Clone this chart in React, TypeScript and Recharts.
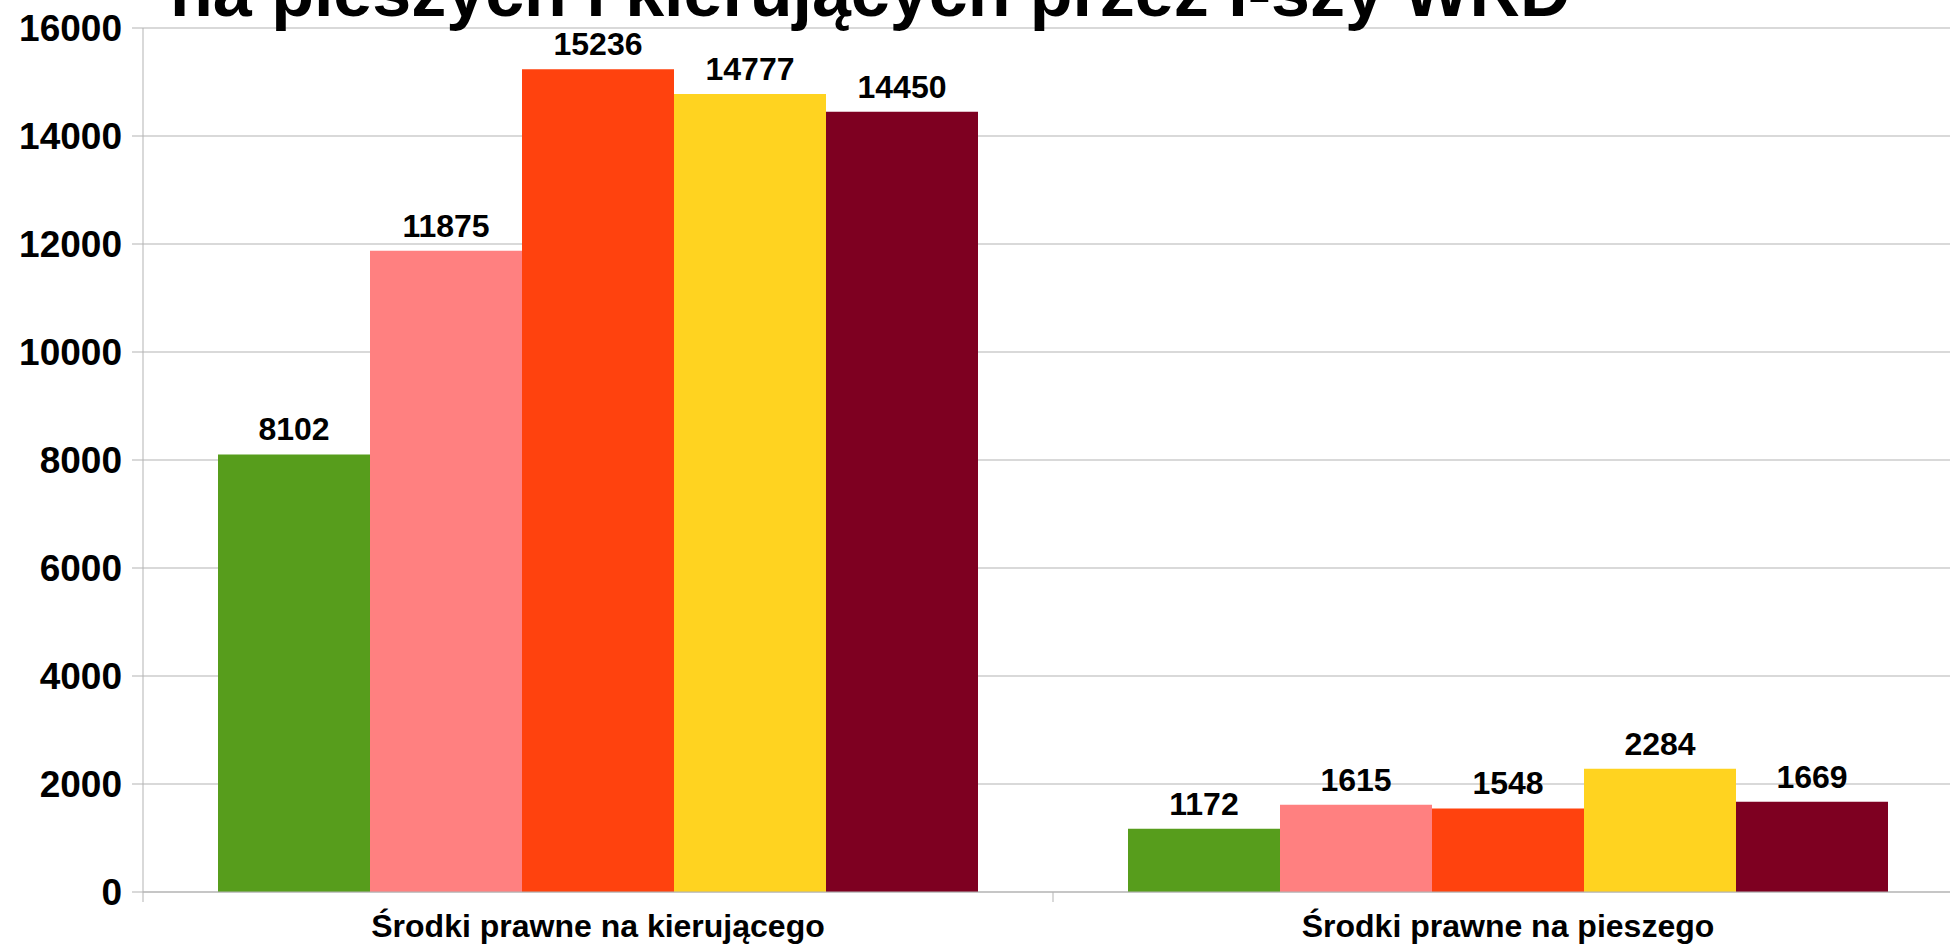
import { Bar, BarChart, CartesianGrid, LabelList, XAxis, YAxis } from 'recharts'

const categories = ['Środki prawne na kierującego', 'Środki prawne na pieszego']
const seriesNames = ['Okres 1', 'Okres 2', 'Okres 3', 'Okres 4', 'Okres 5']
const seriesColors = ['#579d1c', '#ff8080', '#ff420e', '#ffd320', '#7e0021']
const okres1 = [8102, 1172]
const okres2 = [11875, 1615]
const okres3 = [15236, 1548]
const okres4 = [14777, 2284]
const okres5 = [14450, 1669]
const yTicks = [0, 2000, 4000, 6000, 8000, 10000, 12000, 14000, 16000]
const titleLine = 'na pieszych i kierujących przez I-szy WRD'

const seriesValues = [okres1, okres2, okres3, okres4, okres5]
const data = categories.map((name, i) => {
  const row: Record<string, string | number> = { name }
  seriesNames.forEach((s, k) => {
    row[s] = seriesValues[k][i]
  })
  return row
})

const font = '"Liberation Sans", Arial, sans-serif'
const axisGray = '#b3b3b3'
const labelGap = 22

// category label plus the small tick marks at the category boundaries
function CategoryTick(props: any) {
  const { x, y, payload, width, visibleTicksCount, index } = props
  const half = Number(width) / (2 * (visibleTicksCount || 1))
  const axisY = y - labelGap
  const edges = index === visibleTicksCount - 1 ? [x - half, x + half] : [x - half]
  return (
    <g>
      {edges.map((ex) => (
        <line key={ex} x1={ex} x2={ex} y1={axisY} y2={axisY + 10} stroke={axisGray} />
      ))}
      <text x={x} y={y} dy="0.71em" textAnchor="middle" fill="#000" fontSize={32} fontWeight="bold" fontFamily={font}>
        {payload.value}
      </text>
    </g>
  )
}

export default function App() {
  return (
    <div style={{ position: 'absolute', left: 0, top: 0, width: 1950, height: 946, overflow: 'hidden', background: '#fff' }}>
      <BarChart
        width={1980}
        height={946}
        data={data}
        margin={{ top: 28, right: 17, left: 0, bottom: 0 }}
        barCategoryGap={75}
        barGap={0}
      >
        <CartesianGrid vertical={false} stroke={axisGray} />
        <XAxis
          dataKey="name"
          height={54}
          axisLine={{ stroke: axisGray }}
          tickLine={false}
          tickSize={0}
          tickMargin={labelGap}
          tick={<CategoryTick />}
          interval={0}
        />
        <YAxis
          width={143}
          domain={[0, 16000]}
          ticks={yTicks}
          interval={0}
          axisLine={{ stroke: axisGray }}
          tickLine={{ stroke: axisGray }}
          tickSize={11}
          tickMargin={10}
          tick={{ fill: '#000', fontSize: 37, fontWeight: 'bold', fontFamily: font }}
        />
        {seriesNames.map((s, k) => (
          <Bar key={s} dataKey={s} fill={seriesColors[k]} isAnimationActive={false}>
            <LabelList
              dataKey={s}
              position="top"
              offset={14}
              fill="#000"
              fontSize={32}
              fontWeight="bold"
              fontFamily={font}
            />
          </Bar>
        ))}
      </BarChart>
      <svg width={1950} height={946} style={{ position: 'absolute', left: 0, top: 0, pointerEvents: 'none' }}>
        <text x={170} y={16} fontSize={70} fontWeight="bold" fontFamily={font} fill="#000">
          {titleLine}
        </text>
      </svg>
    </div>
  )
}
